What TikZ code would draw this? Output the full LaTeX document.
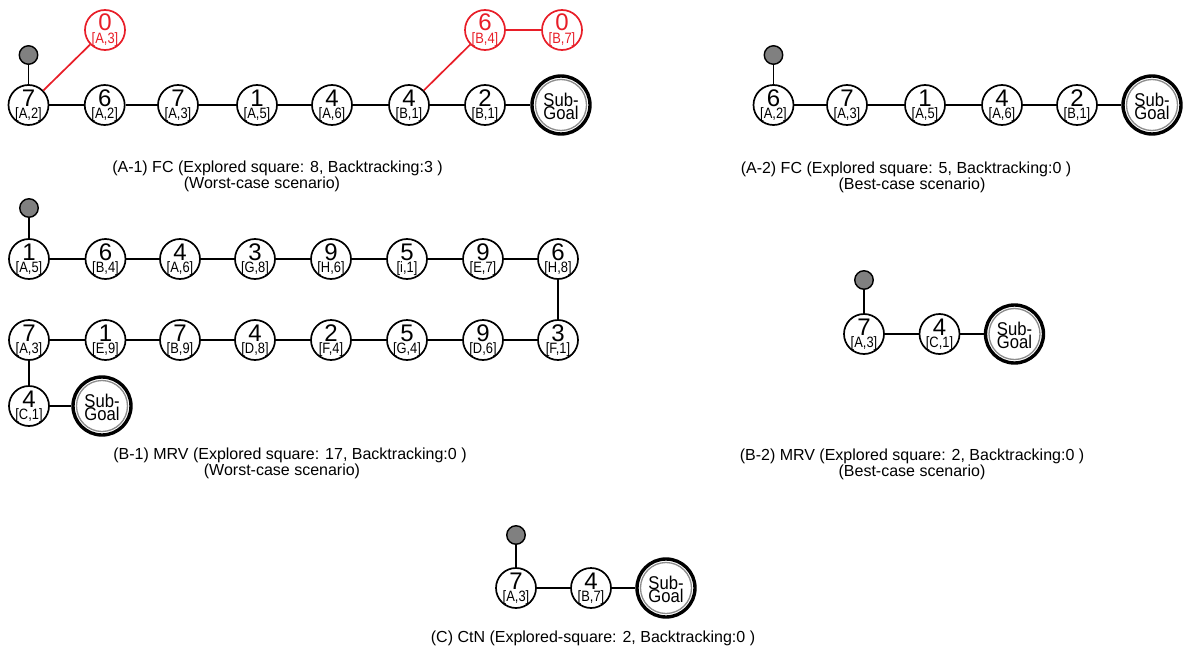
\documentclass[tikz,border=0pt]{standalone}
\usepackage{fontspec}
\setmainfont{Liberation Sans}
\definecolor{rd}{RGB}{232,30,40}
\definecolor{dotgray}{RGB}{128,128,128}
\newcommand\nv[2]{\makebox[0pt]{\raisebox{-1pt}[0pt][0pt]{\fontsize{24}{24}\selectfont #1}}\makebox[0pt]{\raisebox{-13.5pt}[0pt][0pt]{\scalebox{0.86}[1]{\fontsize{15}{15}\selectfont[#2]}}}}
\newcommand\gv{\makebox[0pt]{\raisebox{-1pt}[0pt][0pt]{\scalebox{0.9}[1]{\fontsize{18.5}{18.5}\selectfont Sub-}}}\makebox[0pt]{\raisebox{-14.5pt}[0pt][0pt]{\scalebox{0.9}[1]{\fontsize{18.5}{18.5}\selectfont Goal}}}}
\tikzset{
  st/.style={circle,draw,line width=1.7pt,minimum size=40pt,inner sep=0pt,fill=white},
  rst/.style={st,draw=rd,text=rd},
  root/.style={circle,draw,line width=1.4pt,fill=dotgray,minimum size=18.5pt,inner sep=0pt},
  goal/.style={circle,draw,line width=3.4pt,minimum size=58pt,inner sep=0pt,fill=white},
  ring/.style={line width=1.3pt,draw=black!45},
  ln/.style={line width=1.7pt},
  rln/.style={line width=1.7pt,draw=rd},
  captxt/.style={font=\fontsize{16}{16}\selectfont,inner sep=0pt}
}
\begin{document}
\begin{tikzpicture}[x=1pt,y=-1pt]
\useasboundingbox (0,0) rectangle (1184,653);
% ---------- A-1
\node[root] (a1r) at (28.5,55) {};
\node[st] (a1n1) at (28.5,105) {\nv{7}{A,2}};
\node[st] (a1n2) at (104.7,105) {\nv{6}{A,2}};
\node[st] (a1n3) at (178,105) {\nv{7}{A,3}};
\node[st] (a1n4) at (257,105) {\nv{1}{A,5}};
\node[st] (a1n5) at (332,105) {\nv{4}{A,6}};
\node[st] (a1n6) at (409,105) {\nv{4}{B,1}};
\node[st] (a1n7) at (485,105) {\nv{2}{B,1}};
\node[goal] (a1g) at (561,105) {\gv};
\draw[ring] (a1g.center) circle (25.5pt);
\node[rst] (a1x1) at (105,30) {\nv{0}{A,3}};
\node[rst] (a1x2) at (485,30) {\nv{6}{B,4}};
\node[rst] (a1x3) at (562,30) {\nv{0}{B,7}};
\draw[ln] (a1r) -- (a1n1);
\draw[ln] (a1n1) -- (a1n2) (a1n2) -- (a1n3) (a1n3) -- (a1n4) (a1n4) -- (a1n5) (a1n5) -- (a1n6) (a1n6) -- (a1n7) (a1n7) -- (a1g);
\draw[rln] (a1n1) -- (a1x1);
\draw[rln] (a1n6) -- (a1x2);
\draw[rln] (a1x2) -- (a1x3);
\node[captxt] (a1c1) at (277.5,168) {(A-1) FC (Explored square: 8, Backtracking:3 )};
\node[captxt] (a1c2) at (262,184.5) {(Worst-case scenario)};
% ---------- A-2
\node[root] (a2r) at (773.5,55) {};
\node[st] (a2n1) at (773.5,105) {\nv{6}{A,2}};
\node[st] (a2n2) at (847,105) {\nv{7}{A,3}};
\node[st] (a2n3) at (925,105) {\nv{1}{A,5}};
\node[st] (a2n4) at (1002,105) {\nv{4}{A,6}};
\node[st] (a2n5) at (1077,105) {\nv{2}{B,1}};
\node[goal] (a2g) at (1152,105) {\gv};
\draw[ring] (a2g.center) circle (25.5pt);
\draw[ln] (a2r) -- (a2n1);
\draw[ln] (a2n1) -- (a2n2) (a2n2) -- (a2n3) (a2n3) -- (a2n4) (a2n4) -- (a2n5) (a2n5) -- (a2g);
\node[captxt] (a2c1) at (906,169) {(A-2) FC (Explored square: 5, Backtracking:0 )};
\node[captxt] (a2c2) at (912,185.5) {(Best-case scenario)};
% ---------- B-1
\node[root] (b1r) at (29,208) {};
\node[st] (b1a1) at (29,259) {\nv{1}{A,5}};
\node[st] (b1a2) at (105.5,259) {\nv{6}{B,4}};
\node[st] (b1a3) at (180,259) {\nv{4}{A,6}};
\node[st] (b1a4) at (255,259) {\nv{3}{G,8}};
\node[st] (b1a5) at (331,259) {\nv{9}{H,6}};
\node[st] (b1a6) at (407,259) {\nv{5}{i,1}};
\node[st] (b1a7) at (483,259) {\nv{9}{E,7}};
\node[st] (b1a8) at (558,259) {\nv{6}{H,8}};
\node[st] (b1b1) at (29,340) {\nv{7}{A,3}};
\node[st] (b1b2) at (105.5,340) {\nv{1}{E,9}};
\node[st] (b1b3) at (180,340) {\nv{7}{B,9}};
\node[st] (b1b4) at (255,340) {\nv{4}{D,8}};
\node[st] (b1b5) at (331,340) {\nv{2}{F,4}};
\node[st] (b1b6) at (407,340) {\nv{5}{G,4}};
\node[st] (b1b7) at (483,340) {\nv{9}{D,6}};
\node[st] (b1b8) at (558,340) {\nv{3}{F,1}};
\node[st] (b1c1) at (29,406) {\nv{4}{C,1}};
\node[goal] (b1g) at (102,406) {\gv};
\draw[ring] (b1g.center) circle (25.5pt);
\draw[ln] (b1r) -- (b1a1);
\draw[ln] (b1a1) -- (b1a2) (b1a2) -- (b1a3) (b1a3) -- (b1a4) (b1a4) -- (b1a5) (b1a5) -- (b1a6) (b1a6) -- (b1a7) (b1a7) -- (b1a8);
\draw[ln] (b1a8) -- (b1b8);
\draw[ln] (b1b1) -- (b1b2) (b1b2) -- (b1b3) (b1b3) -- (b1b4) (b1b4) -- (b1b5) (b1b5) -- (b1b6) (b1b6) -- (b1b7) (b1b7) -- (b1b8);
\draw[ln] (b1b1) -- (b1c1);
\draw[ln] (b1c1) -- (b1g);
\node[captxt] (b1c1t) at (290,455) {(B-1) MRV (Explored square: 17, Backtracking:0 )};
\node[captxt] (b1c2t) at (282,471.5) {(Worst-case scenario)};
% ---------- B-2
\node[root] (b2r) at (864,280) {};
\node[st] (b2n1) at (864,334) {\nv{7}{A,3}};
\node[st] (b2n2) at (939.5,334) {\nv{4}{C,1}};
\node[goal] (b2g) at (1014.5,334) {\gv};
\draw[ring] (b2g.center) circle (25.5pt);
\draw[ln] (b2r) -- (b2n1);
\draw[ln] (b2n1) -- (b2n2) (b2n2) -- (b2g);
\node[captxt] (b2c1) at (912,456) {(B-2) MRV (Explored square: 2, Backtracking:0 )};
\node[captxt] (b2c2) at (912,472.5) {(Best-case scenario)};
% ---------- C
\node[root] (cr) at (516,535) {};
\node[st] (cn1) at (516,588) {\nv{7}{A,3}};
\node[st] (cn2) at (591,588) {\nv{4}{B,7}};
\node[goal] (cg) at (666,588) {\gv};
\draw[ring] (cg.center) circle (25.5pt);
\draw[ln] (cr) -- (cn1);
\draw[ln] (cn1) -- (cn2) (cn2) -- (cg);
\node[captxt] (cc) at (593,638) {(C) CtN (Explored-square: 2, Backtracking:0 )};
\end{tikzpicture}
\end{document}
